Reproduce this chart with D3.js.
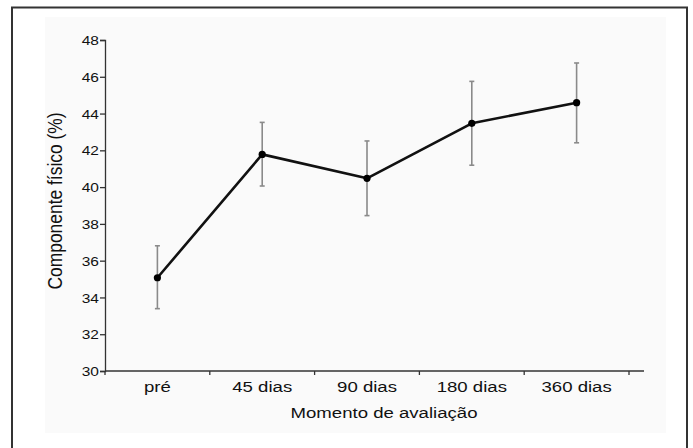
<!DOCTYPE html>
<html>
<head>
<meta charset="utf-8">
<script src="https://cdn.jsdelivr.net/npm/d3@7"></script>
<style>
  body { margin: 0; background: #fff; }
  svg { display: block; }
  text { font-family: "Liberation Sans", Arial, Helvetica, sans-serif; fill: #111; }
</style>
</head>
<body>
<div id="chart"></div>
<script>
// data
var momentos = ["pré", "45 dias", "90 dias", "180 dias", "360 dias"];
var medias   = [35.07, 41.78, 40.48, 43.47, 44.59];
var limSup   = [36.81, 43.52, 42.51, 45.75, 46.75];
var limInf   = [33.39, 40.06, 38.45, 41.19, 42.41];
var yTicks   = [30, 32, 34, 36, 38, 40, 42, 44, 46, 48];

var W = 693, H = 448,
    sy = 0.83; // the picture is a bit squashed vertically

var svg = d3.select("#chart").append("svg")
    .attr("width", W)
    .attr("height", H);

// faint plot backdrop + frame
svg.append("rect")
    .attr("x", 45).attr("y", 17)
    .attr("width", 621).attr("height", 416)
    .attr("fill", "#fafafa");
svg.append("rect")
    .attr("x", 12).attr("y", 7.5)
    .attr("width", 675).attr("height", 460)
    .attr("fill", "none")
    .attr("stroke", "#333")
    .attr("stroke-width", 2);

var x = d3.scaleBand().domain(momentos).range([105, 629]).padding(0);
var y = d3.scaleLinear().domain([30, 48]).range([371, 40]);

var data = momentos.map(function(m, i) {
	return {m: m, v: medias[i], hi: limSup[i], lo: limInf[i]};
});
function cx(d) { return x(d.m) + x.bandwidth() / 2; }

// y axis
var yAxis = svg.append("g").attr("transform", "translate(105,0)")
    .call(d3.axisLeft(y).tickValues(yTicks).tickSize(5).tickPadding(6));
yAxis.select(".domain").attr("stroke", "#333").attr("stroke-width", 1.3);
yAxis.selectAll(".tick line").attr("stroke", "#333").attr("stroke-width", 1.3);
yAxis.selectAll(".tick text")
    .attr("font-size", 15.5)
    .attr("fill", "#111")
    .attr("dy", null)
    .attr("x", null)
    .attr("transform", "translate(-6,0) scale(1," + sy + ") translate(0,5.5)")
    .attr("text-anchor", "end");

// x axis: labels centred in bands, ticks on the band edges
var xAxis = svg.append("g").attr("transform", "translate(0,371)");
xAxis.append("line")
    .attr("x1", 105).attr("x2", 644)
    .attr("stroke", "#333").attr("stroke-width", 1.3);
var edges = momentos.map(function(m) { return x(m); }).concat([x.range()[1]]);
xAxis.selectAll("line.edge").data(edges).enter().append("line")
    .attr("class", "edge")
    .attr("x1", function(d) { return d; }).attr("x2", function(d) { return d; })
    .attr("y1", 0).attr("y2", 4)
    .attr("stroke", "#333").attr("stroke-width", 1.3);
xAxis.selectAll("text.lab").data(momentos).enter().append("text")
    .attr("class", "lab")
    .attr("text-anchor", "middle")
    .attr("font-size", 18.6)
    .attr("transform", function(d) {
    	return "translate(" + (x(d) + x.bandwidth() / 2) + ",21) scale(1," + sy + ")";
    })
    .text(function(d) { return d; });

// axis titles
svg.append("text")
    .attr("text-anchor", "middle")
    .attr("font-size", 18.6)
    .attr("transform", "translate(384,418) scale(1," + sy + ")")
    .text("Momento de avaliação");
svg.append("text")
    .attr("text-anchor", "middle")
    .attr("font-size", 21)
    .attr("transform", "translate(62,201) scale(1," + sy + ") rotate(-90)")
    .text("Componente físico (%)");

// error bars
var eb = svg.selectAll("g.err").data(data).enter().append("g").attr("class", "err")
    .attr("stroke", "#8a8a8a").attr("stroke-width", 1.6);
eb.append("line")
    .attr("x1", cx).attr("x2", cx)
    .attr("y1", function(d) { return y(d.hi); })
    .attr("y2", function(d) { return y(d.lo); });
eb.append("line")
    .attr("x1", function(d) { return cx(d) - 2.5; })
    .attr("x2", function(d) { return cx(d) + 2.5; })
    .attr("y1", function(d) { return y(d.hi); })
    .attr("y2", function(d) { return y(d.hi); });
eb.append("line")
    .attr("x1", function(d) { return cx(d) - 2.5; })
    .attr("x2", function(d) { return cx(d) + 2.5; })
    .attr("y1", function(d) { return y(d.lo); })
    .attr("y2", function(d) { return y(d.lo); });

// mean line + points
var line = d3.line().x(cx).y(function(d) { return y(d.v); });
svg.append("path")
    .datum(data)
    .attr("d", line)
    .attr("fill", "none")
    .attr("stroke", "#111")
    .attr("stroke-width", 2.6)
    .attr("stroke-linejoin", "round");
svg.selectAll("circle.pt").data(data).enter().append("circle")
    .attr("class", "pt")
    .attr("cx", cx)
    .attr("cy", function(d) { return y(d.v); })
    .attr("r", 3.6)
    .attr("fill", "#000");
</script>
</body>
</html>
